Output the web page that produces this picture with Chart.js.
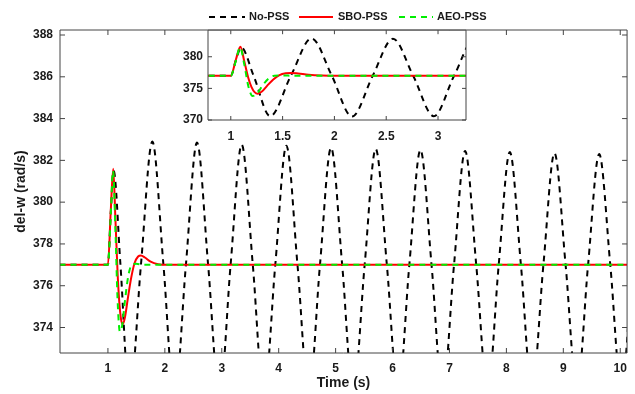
<!DOCTYPE html>
<html><head><meta charset="utf-8">
<script src="https://cdn.jsdelivr.net/npm/chart.js@4.4.0/dist/chart.umd.min.js"></script>
<style>
html,body{margin:0;padding:0;background:#fff;}
#wrap{position:relative;width:635px;height:394px;background:#fff;}
#main{position:absolute;left:0;top:0;}
#inset{position:absolute;left:176px;top:18px;}
</style></head><body>
<div id="wrap">
<canvas id="main" width="635" height="394"></canvas>
<canvas id="inset" width="300" height="134"></canvas>
</div>
<script>
// ---- data ----
const seriesNames = ['No-PSS', 'SBO-PSS', 'AEO-PSS'];
const noPssTime = [0.15, 1.0, 1.05, 1.1, 1.22, 1.38, 1.58, 1.78, 1.975, 2.17, 2.37, 2.565, 2.76, 2.96, 3.155, 3.35, 3.545, 3.74, 3.94, 4.135, 4.33, 4.53, 4.725, 4.92, 5.115, 5.31, 5.51, 5.705, 5.9, 6.10, 6.295, 6.49, 6.685, 6.88, 7.08, 7.275, 7.47, 7.67, 7.865, 8.06, 8.255, 8.45, 8.65, 8.845, 9.04, 9.24, 9.435, 9.63, 9.825, 10.02, 10.215];
const noPssW    = [377, 377, 379.5, 381.5, 377, 370.6, 377, 382.9, 377, 370.55, 377, 382.85, 377, 370.6, 377, 382.75, 377, 370.65, 377, 382.7, 377, 370.7, 377, 382.6, 377, 370.75, 377, 382.55, 377, 370.8, 377, 382.5, 377, 370.85, 377, 382.45, 377, 370.9, 377, 382.4, 377, 370.95, 377, 382.35, 377, 371.0, 377, 382.3, 377, 371.05, 377];
const sboTime = [0.15, 1.0, 1.05, 1.093, 1.13, 1.17, 1.2, 1.23, 1.26, 1.3, 1.35, 1.41, 1.47, 1.53, 1.58, 1.65, 1.75, 1.88, 2.05, 10.12];
const sboW    = [377, 377, 379.6, 381.6, 379.3, 376.6, 375.2, 374.4, 374.15, 374.5, 375.4, 376.4, 377.1, 377.4, 377.45, 377.35, 377.15, 377.03, 377, 377];
const aeoTime = [0.15, 1.0, 1.05, 1.09, 1.13, 1.17, 1.21, 1.25, 1.3, 1.36, 1.42, 1.5, 1.6, 10.12];
const aeoW    = [377, 377, 379.4, 381.5, 378.8, 375.3, 373.8, 374.1, 375.3, 376.5, 377.0, 377.05, 377, 377];
const xTicks = [1, 2, 3, 4, 5, 6, 7, 8, 9, 10];
const yTicks = [374, 376, 378, 380, 382, 384, 386, 388];
const insetXTicks = [1, 1.5, 2, 2.5, 3];
const insetYTicks = [370, 375, 380];

const FONT = "'Liberation Sans', Arial, sans-serif";
const TXT = '#1a1a1a';

function pts(t, w) { return t.map((x, i) => ({ x: x, y: w[i] })); }
function makeDatasets() {
  return [
    { label: seriesNames[0], data: pts(noPssTime, noPssW), borderColor: '#000000', borderDash: [6, 5], order: 3 },
    { label: seriesNames[1], data: pts(sboTime, sboW), borderColor: '#ff0000', order: 2 },
    { label: seriesNames[2], data: pts(aeoTime, aeoW), borderColor: '#00ee00', borderDash: [6, 5], order: 1 }
  ].map(d => Object.assign(d, { borderWidth: 2, pointRadius: 0, fill: false, cubicInterpolationMode: 'monotone', clip: 0, backgroundColor: d.borderColor }));
}
function framePlugin(xt, yt, len) {
  return {
    id: 'frame',
    afterDatasetsDraw(chart) {
      const { ctx, chartArea: a, scales } = chart;
      ctx.save();
      ctx.strokeStyle = '#444';
      ctx.lineWidth = 1;
      ctx.setLineDash([]);
      ctx.beginPath();
      ctx.rect(a.left, a.top, a.right - a.left, a.bottom - a.top);
      xt.forEach(v => {
        const p = scales.x.getPixelForValue(v);
        ctx.moveTo(p, a.bottom); ctx.lineTo(p, a.bottom - len);
        ctx.moveTo(p, a.top); ctx.lineTo(p, a.top + len);
      });
      yt.forEach(v => {
        const p = scales.y.getPixelForValue(v);
        ctx.moveTo(a.left, p); ctx.lineTo(a.left + len, p);
        ctx.moveTo(a.right, p); ctx.lineTo(a.right - len, p);
      });
      ctx.stroke();
      ctx.restore();
    }
  };
}
function scaleOpts(min, max, ticks, fitW, fitH, pad, isX) {
  return {
    type: 'linear', min: min, max: max,
    grid: { display: false, drawTicks: false }, border: { display: false },
    ticks: { font: { family: FONT, size: 12, weight: 'bold' }, color: TXT, padding: pad, maxRotation: 0, autoSkip: false, callback: v => String(v) },
    afterBuildTicks: s => { s.ticks = ticks.map(v => ({ value: v })); },
    afterFit: s => { if (isX) s.height = fitH; else s.width = fitW; }
  };
}

const decoPlugin = {
  id: 'deco',
  afterDraw(chart) {
    const ctx = chart.ctx; const a = chart.chartArea;
    ctx.save();
    // legend
    const items = [
      { x0: 209, x1: 245, tx: 249, color: '#000000', dash: [6, 5], name: seriesNames[0] },
      { x0: 299, x1: 333, tx: 338, color: '#ff0000', dash: [], name: seriesNames[1] },
      { x0: 399, x1: 433, tx: 437, color: '#00ee00', dash: [6, 5], name: seriesNames[2] }
    ];
    const ly = 17;
    items.forEach(it => {
      ctx.strokeStyle = it.color; ctx.lineWidth = 2; ctx.setLineDash(it.dash);
      ctx.beginPath(); ctx.moveTo(it.x0, ly); ctx.lineTo(it.x1, ly); ctx.stroke();
      ctx.setLineDash([]);
      ctx.fillStyle = TXT; ctx.font = 'bold 11px ' + FONT; ctx.textBaseline = 'middle'; ctx.textAlign = 'left';
      ctx.fillText(it.name, it.tx, ly);
    });
    // axis titles
    ctx.font = 'bold 14px ' + FONT; ctx.fillStyle = TXT; ctx.textAlign = 'center'; ctx.textBaseline = 'middle';
    ctx.fillText('Time (s)', (a.left + a.right) / 2, 383);
    ctx.translate(21, (a.top + a.bottom) / 2);
    ctx.rotate(-Math.PI / 2);
    ctx.fillText('del-w (rad/s)', 0, 0);
    ctx.restore();
  }
};
const whiteBg = {
  id: 'whiteBg',
  beforeDraw(chart) { const c = chart.ctx; c.save(); c.fillStyle = '#fff'; c.fillRect(0, 0, chart.width, chart.height); c.restore(); }
};
const areaBg = {
  id: 'areaBg',
  beforeDraw(chart) { const c = chart.ctx, a = chart.chartArea; c.save(); c.fillStyle = '#fff'; c.fillRect(a.left, a.top, a.right - a.left, a.bottom - a.top); c.restore(); }
};

new Chart(document.getElementById('main'), {
  type: 'line',
  data: { datasets: makeDatasets() },
  options: {
    responsive: false, animation: false, devicePixelRatio: 1,
    layout: { padding: { top: 30, right: 7, left: 0, bottom: 0 } },
    plugins: { legend: { display: false }, tooltip: { enabled: false } },
    scales: {
      x: scaleOpts(0.158, 10.12, xTicks, 0, 41, 8, true),
      y: scaleOpts(372.78, 388.24, yTicks, 60, 0, 7, false)
    }
  },
  plugins: [whiteBg, framePlugin(xTicks, yTicks, 5), decoPlugin]
});

new Chart(document.getElementById('inset'), {
  type: 'line',
  data: { datasets: makeDatasets() },
  options: {
    responsive: false, animation: false, devicePixelRatio: 1,
    layout: { padding: { top: 12, right: 10, left: 0, bottom: 0 } },
    plugins: { legend: { display: false }, tooltip: { enabled: false } },
    scales: {
      x: scaleOpts(0.78, 3.27, insetXTicks, 0, 32, 9, true),
      y: scaleOpts(370, 384.2, insetYTicks, 32, 0, 5, false)
    }
  },
  plugins: [areaBg, framePlugin(insetXTicks, insetYTicks, 4)]
});
</script>
</body></html>
